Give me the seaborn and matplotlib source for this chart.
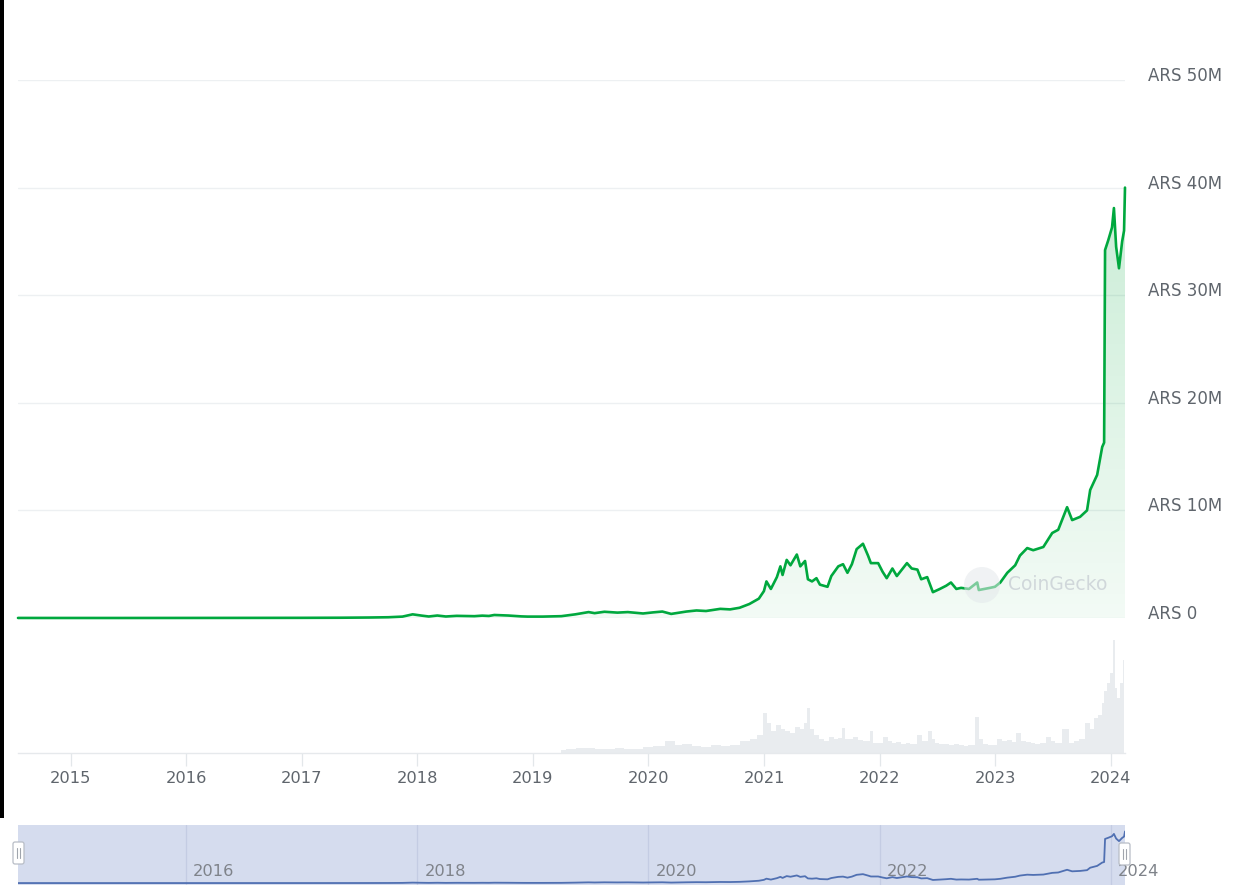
import numpy as np
import pandas as pd
import matplotlib
matplotlib.use("Agg")
import matplotlib.pyplot as plt
import matplotlib.dates as mdates
import matplotlib.transforms as mtransforms
from matplotlib.colors import LinearSegmentedColormap
from matplotlib.patches import Rectangle, FancyBboxPatch, Circle
import seaborn as sns

# ---------------- data ----------------
price_dates = [
    "2014-07-19", "2014-10-01", "2015-01-01", "2015-06-01", "2015-12-20", "2016-06-15",
    "2016-12-31", "2017-05-01", "2017-08-01", "2017-10-01", "2017-11-15", "2017-12-17",
    "2018-01-15", "2018-02-06", "2018-03-05", "2018-04-01", "2018-05-05", "2018-06-30",
    "2018-07-25", "2018-08-15", "2018-09-01", "2018-10-15", "2018-11-25", "2018-12-15",
    "2019-02-01", "2019-04-01", "2019-05-15", "2019-06-26", "2019-07-15", "2019-08-15",
    "2019-09-25", "2019-10-28", "2019-12-15", "2020-01-15", "2020-02-14", "2020-03-13",
    "2020-04-30", "2020-06-01", "2020-07-01", "2020-08-15", "2020-09-15", "2020-10-15",
    "2020-11-15", "2020-12-15", "2020-12-31",
    "2021-01-08", "2021-01-22", "2021-02-10", "2021-02-21", "2021-02-28", "2021-03-13",
    "2021-03-25", "2021-04-14", "2021-04-25", "2021-05-10", "2021-05-19", "2021-06-01",
    "2021-06-15", "2021-06-26", "2021-07-20", "2021-08-01", "2021-08-23", "2021-09-07",
    "2021-09-21", "2021-10-05", "2021-10-20", "2021-11-09", "2021-11-25", "2021-12-04",
    "2021-12-27",
    "2022-01-10", "2022-01-23", "2022-02-10", "2022-02-24", "2022-03-28", "2022-04-12",
    "2022-04-30", "2022-05-12", "2022-05-31", "2022-06-18", "2022-07-10", "2022-07-30",
    "2022-08-14", "2022-08-31", "2022-09-15", "2022-10-10", "2022-11-05", "2022-11-10",
    "2022-12-15", "2022-12-31",
    "2023-01-17", "2023-02-08", "2023-03-05", "2023-03-20", "2023-04-12", "2023-05-01",
    "2023-06-02", "2023-06-30", "2023-07-19", "2023-08-16", "2023-09-01", "2023-09-26",
    "2023-10-18", "2023-10-28", "2023-11-19", "2023-12-05", "2023-12-11", "2023-12-14",
    "2023-12-24", "2024-01-05", "2024-01-11", "2024-01-18", "2024-01-27", "2024-02-06",
    "2024-02-12", "2024-02-15",
]
price_ars_m = [
    0.005, 0.0033, 0.0027, 0.0019, 0.0055, 0.0095,
    0.0152, 0.025, 0.045, 0.07, 0.13, 0.34,
    0.22, 0.14, 0.23, 0.14, 0.20, 0.17,
    0.22, 0.19, 0.28, 0.23, 0.15, 0.13,
    0.13, 0.17, 0.34, 0.55, 0.45, 0.58,
    0.50, 0.55, 0.42, 0.52, 0.60, 0.38,
    0.60, 0.70, 0.65, 0.85, 0.80, 0.95,
    1.3, 1.8, 2.5,
    3.4, 2.7, 3.8, 4.8, 4.0, 5.4,
    4.9, 5.9, 4.8, 5.3, 3.6, 3.4,
    3.7, 3.1, 2.9, 3.9, 4.8, 5.0,
    4.2, 5.0, 6.4, 6.9, 5.8, 5.1,
    5.1,
    4.3, 3.7, 4.6, 3.9, 5.1, 4.6,
    4.5, 3.6, 3.8, 2.4, 2.7, 3.0,
    3.3, 2.7, 2.8, 2.7, 3.3, 2.6,
    2.8, 2.9,
    3.3, 4.2, 4.9, 5.8, 6.5, 6.3,
    6.6, 7.9, 8.2, 10.3, 9.1, 9.4,
    10.0, 11.9, 13.3, 15.9, 16.3, 34.2,
    35.1, 36.3, 38.1, 34.5, 32.5, 35.0,
    36.0, 40.0,
]

vol_dates = [
    "2019-04-01", "2019-05-01", "2019-06-01", "2019-07-01", "2019-08-01", "2019-09-01",
    "2019-10-01", "2019-11-01", "2019-12-01", "2020-01-01", "2020-02-01", "2020-03-15",
    "2020-04-01", "2020-05-01", "2020-06-01", "2020-07-01", "2020-08-01", "2020-09-01",
    "2020-10-01", "2020-11-01", "2020-12-01", "2020-12-20", "2021-01-03", "2021-01-15",
    "2021-02-01", "2021-02-15", "2021-03-01", "2021-03-15", "2021-04-01", "2021-04-15",
    "2021-05-01", "2021-05-12", "2021-05-20", "2021-06-01", "2021-06-15", "2021-07-01",
    "2021-07-15", "2021-08-01", "2021-08-15", "2021-09-01", "2021-09-07", "2021-09-20",
    "2021-10-01", "2021-10-15", "2021-11-01", "2021-11-15", "2021-12-01", "2021-12-04",
    "2021-12-15", "2022-01-01", "2022-01-22", "2022-02-01", "2022-02-15", "2022-03-01",
    "2022-03-15", "2022-04-01", "2022-04-15", "2022-05-10", "2022-05-20", "2022-06-13",
    "2022-06-20", "2022-07-01", "2022-07-15", "2022-08-01", "2022-08-15", "2022-09-01",
    "2022-09-15", "2022-10-01", "2022-10-15", "2022-11-09", "2022-11-15", "2022-12-01",
    "2022-12-15", "2023-01-01", "2023-01-15", "2023-02-01", "2023-02-15", "2023-03-01",
    "2023-03-13", "2023-04-01", "2023-04-15", "2023-05-01", "2023-05-15", "2023-06-01",
    "2023-06-20", "2023-07-01", "2023-07-15", "2023-08-14", "2023-09-01", "2023-09-15",
    "2023-10-01", "2023-10-23", "2023-11-01", "2023-11-15", "2023-12-01", "2023-12-06",
    "2023-12-14", "2023-12-24", "2024-01-03", "2024-01-11", "2024-01-18", "2024-01-26",
    "2024-02-06", "2024-02-13",
]
# relative trading volume (arbitrary units)
vol_rel = [
    3, 4, 5, 5, 4, 4,
    5, 4, 4, 6, 7, 12,
    8, 9, 7, 6, 8, 7,
    8, 12, 14, 18, 40, 30,
    22, 28, 24, 22, 20, 26,
    24, 30, 45, 24, 18, 14,
    12, 16, 14, 15, 25, 14,
    14, 16, 13, 12, 12, 22,
    10, 10, 16, 12, 10, 11,
    9, 10, 9, 18, 12, 22,
    14, 10, 9, 9, 8, 9,
    8, 7, 8, 36, 14, 9,
    8, 8, 14, 12, 13, 11,
    20, 12, 11, 10, 9, 10,
    16, 12, 10, 24, 10, 12,
    14, 30, 24, 35, 38, 50,
    62, 70, 80, 113, 65, 55,
    70, 93,
]

y_ticks_m = [0, 10, 20, 30, 40, 50]
y_tick_labels = ["ARS 0", "ARS 10M", "ARS 20M", "ARS 30M", "ARS 40M", "ARS 50M"]
main_years = list(range(2015, 2025))
nav_years = [2016, 2018, 2020, 2022, 2024]
x_start, x_end = "2014-07-19", "2024-02-15"

# ---------------- styling ----------------
GREEN = "#00a83e"
TXT = "#5f656c"
GRID = "#edf0f2"

sns.set_theme(style="white")
plt.rcParams["font.family"] = ["DejaVu Sans"]

W, H = 1242, 889
fig = plt.figure(figsize=(W / 100, H / 100), dpi=100)
fig.patch.set_facecolor("white")


def ax_px(x0, y0, x1, y1, **kw):
    return fig.add_axes([x0 / W, 1 - y1 / H, (x1 - x0) / W, (y1 - y0) / H], **kw)


ax = ax_px(18, 80, 1125, 618)
axv = ax_px(18, 618, 1125, 753)
axn = ax_px(18, 825, 1125, 885)

df = pd.DataFrame({"date": pd.to_datetime(price_dates), "price": price_ars_m})
dv = pd.DataFrame({"date": pd.to_datetime(vol_dates), "vol": vol_rel})
xmin, xmax = pd.Timestamp(x_start), pd.Timestamp(x_end)

# ---------------- main price panel ----------------
ax.set_facecolor("none")
poly = ax.fill_between(df["date"], 0, df["price"], color="none", lw=0)
cmap = LinearSegmentedColormap.from_list(
    "g", [(0.0, 0.66, 0.24, 0.05), (0.0, 0.66, 0.24, 0.22)])
grad = np.linspace(0, 1, 256).reshape(-1, 1)
x0n, x1n = mdates.date2num(xmin), mdates.date2num(xmax)
im = ax.imshow(grad, extent=[x0n, x1n, 0, 42], origin="lower", aspect="auto",
               cmap=cmap, zorder=1, interpolation="bicubic")
im.set_clip_path(poly.get_paths()[0], transform=ax.transData)

sns.lineplot(data=df, x="date", y="price", ax=ax, color=GREEN, lw=1.9, zorder=3)
ax.lines[-1].set_clip_on(False)
ax.set_xlim(xmin, xmax)
ax.set_ylim(0, 50)
ax.set_yticks(y_ticks_m)
ax.set_yticklabels(y_tick_labels)
ax.yaxis.tick_right()
ax.tick_params(axis="y", length=0, pad=16.5, labelsize=12, labelcolor=TXT)
off = mtransforms.ScaledTranslation(0, 6 / 100, fig.dpi_scale_trans)
for lab in ax.get_yticklabels():
    lab.set_transform(lab.get_transform() + off)
ax.set_xticks([])
ax.set_xlabel("")
ax.set_ylabel("")
ax.grid(axis="y", color=GRID, lw=1.0)
ax.set_axisbelow(True)
for s in ax.spines.values():
    s.set_visible(False)

# ---------------- volume panel ----------------
axv.set_facecolor("none")
axv.fill_between(dv["date"], 0, dv["vol"], step="mid", color="#e9ecef", lw=0)
axv.set_xlim(xmin, xmax)
axv.set_ylim(0, 135)
axv.set_yticks([])
axv.set_xticks([pd.Timestamp(f"{y}-01-01") for y in main_years])
axv.set_xticklabels([str(y) for y in main_years])
axv.tick_params(axis="x", length=9, width=0.9, color="#e3e7ea", pad=4,
                labelsize=11.7, labelcolor=TXT, bottom=True, direction="out")
for k, s in axv.spines.items():
    s.set_visible(k == "bottom")
axv.spines["bottom"].set_color("#e6e9ec")
axv.spines["bottom"].set_linewidth(1.0)

# ---------------- navigator ----------------
axn.set_facecolor("#d5dcee")
shift = mtransforms.ScaledTranslation(7 / 100, 0, fig.dpi_scale_trans)
for y in nav_years:
    xd = pd.Timestamp(f"{y}-01-01")
    axn.axvline(xd, color="#c4cce3", lw=0.9, zorder=1)
    t = axn.text(xd, 8.6, str(y), fontsize=11.7, color="#7f838a",
                 va="center", ha="left", zorder=2, clip_on=False)
    t.set_transform(t.get_transform() + shift)
sns.lineplot(data=df, x="date", y="price", ax=axn, color="#5070b2", lw=1.3, zorder=3)
axn.set_xlim(xmin, xmax)
axn.set_ylim(-1.5, 45)
axn.set_xticks([])
axn.set_yticks([])
axn.set_xlabel("")
axn.set_ylabel("")
for s in axn.spines.values():
    s.set_visible(False)

# ---------------- overlay decorations (pixel space) ----------------
ov = fig.add_axes([0, 0, 1, 1], zorder=10)
ov.set_xlim(0, W)
ov.set_ylim(H, 0)
ov.axis("off")
ov.patch.set_alpha(0)
ov.add_patch(Rectangle((0, 0), 4, 818, color="black", lw=0))
# watermark
ov.add_patch(Circle((982, 585), 18, facecolor="#e4e8eb", edgecolor="none", alpha=0.55))
ov.text(1008, 584, "CoinGecko", fontsize=13.5, color="#cdd4d8", alpha=0.9,
        va="center", ha="left")
# navigator handles
for hx, hy in [(13, 842), (1119, 843)]:
    ov.add_patch(FancyBboxPatch((hx, hy), 11, 22, boxstyle="round,pad=0,rounding_size=2",
                                facecolor="white", edgecolor="#b8bdc6", lw=0.9))
    for dx in (4.3, 6.7):
        ov.plot([hx + dx, hx + dx], [hy + 6, hy + 16], color="#a0a5ad", lw=0.8)

fig.savefig("out.png", dpi=100, facecolor="white")
